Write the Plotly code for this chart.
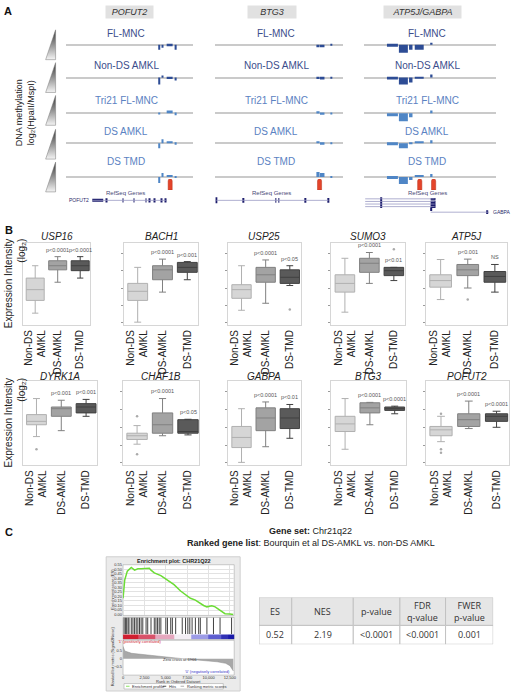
import plotly.graph_objects as go

W, H = 520, 694

# ---------------- Panel A data ----------------
a_columns = ["POFUT2", "BTG3", "ATP5J/GABPA"]
a_samples = ["FL-MNC", "Non-DS AMKL", "Tri21 FL-MNC", "DS AMKL", "DS TMD"]
# probe positions along each locus window (0-100) and probe widths
a_pos = {
    "POFUT2": [73.8, 76.2, 82.0, 86.7],
    "BTG3": [80.2, 83.5, 90.7],
    "ATP5J/GABPA": [21.4, 29.7, 35.3, 41.7, 51.0],
}
a_width = {
    "POFUT2": [1.6, 0.8, 4.7, 1.6],
    "BTG3": [2.5, 3.5, 1.2],
    "ATP5J/GABPA": [8.3, 6.8, 2.6, 6.8, 1.5],
}
# log2(HpaII/MspI) per sample (rows follow a_samples)
a_meth = {
    "POFUT2": [
        [-1.25, -0.75, -0.38, -1.25],
        [-1.75, 0.5, -0.38, -0.75],
        [-0.2, 0.0, 0.75, -0.5],
        [-1.25, 1.0, 0.25, -0.38],
        [-1.5, 1.0, 0.5, -0.25],
    ],
    "BTG3": [
        [-0.62, -0.62, -0.25],
        [-0.38, -0.5, -0.12],
        [0.5, -0.38, -0.12],
        [0.5, -0.38, -0.12],
        [1.25, 1.0, -0.2],
    ],
    "ATP5J/GABPA": [
        [-0.5, -2.0, -1.25, -1.25, 0.25],
        [-0.5, -1.75, -1.25, -0.25, 0.75],
        [-0.75, -2.0, -1.0, 0.0, 0.75],
        [-0.5, -1.25, -0.25, 0.5, 0.75],
        [-0.5, -1.75, -0.75, 0.25, 0.75],
    ],
}
a_dmr = {"POFUT2": [82.4], "BTG3": [81.4], "ATP5J/GABPA": [42.1, 52.6]}

# RefSeq gene models: (start, end, level) lines and (center, width, level, height) exons
gene_lines = {
    "POFUT2": [(21, 79, 0)],
    "BTG3": [(0.8, 88.4, 0)],
    "ATP5J/GABPA": [(0.75, 53.4, 0), (0.75, 53.4, -0.7), (0.75, 53.4, -1.4),
                    (0.75, 53.4, -2.1), (50.4, 94.7, -3.6)],
}
gene_exons = {
    "POFUT2": [(25.4, 8.6, 0, 0.8), (32, 0.6, 0, 1.1), (45.3, 0.6, 0, 1.1), (53.9, 0.6, 0, 1.1),
               (63.3, 0.6, 0, 1.1), (66.4, 0.6, 0, 1.1), (70.3, 0.6, 0, 1.1), (75.8, 0.6, 0, 1.1),
               (78.9, 0.6, 0, 1.1)],
    "BTG3": [(0.8, 1.0, 0, 1.6), (21.7, 0.7, 0, 1.3), (47.3, 0.7, 0, 1.3), (49.6, 0.7, 0, 1.3),
             (70.5, 0.7, 0, 1.3), (88.4, 0.7, 0, 1.3)],
    "ATP5J/GABPA": [(12.8, 1.2, -1.05, 2.9), (52.2, 3.7, 0, 0.5), (52.2, 3.7, -0.7, 0.5),
                    (52.2, 3.7, -1.4, 0.5), (52.2, 3.7, -2.1, 0.5), (50.6, 0.6, -2.8, 0.9),
                    (93.5, 0.7, -3.6, 1.0)],
}
gene_labels = {
    "POFUT2": [("POFUT2", 20, 0, "right")],
    "BTG3": [("BTG3", -1, 0, "right")],
    "ATP5J/GABPA": [("ATP5J", -2, -1.05, "right"), ("GABPA", 96, -3.6, "left")],
}

# ---------------- Panel B data ----------------
b_groups = ["Non-DS<br>AMKL", "DS-AMKL", "DS-TMD"]
b_genes_row1 = ["USP16", "BACH1", "USP25", "SUMO3", "ATP5J"]
b_genes_row2 = ["DYRK1A", "CHAF1B", "GABPA", "BTG3", "POFUT2"]
b_lo = {"USP16": [1.45, 5.2, 5.7], "BACH1": [0.36, 4.0, 5.5], "USP25": [1.8, 2.65, 4.8],
        "SUMO3": [1.57, 5.06, 5.4], "ATP5J": [3.1, 4.5, 4.0], "DYRK1A": [3.4, 4.1, 5.8],
        "CHAF1B": [2.5, 3.5, 3.6], "GABPA": [0.35, 2.2, 3.2], "BTG3": [1.9, 4.8, 6.1],
        "POFUT2": [2.8, 4.35, 4.5]}
b_q1 = {"USP16": [3.0, 6.7, 6.6], "BACH1": [3.0, 5.5, 6.4], "USP25": [3.25, 5.2, 5.06],
        "SUMO3": [4.0, 6.4, 6.0], "ATP5J": [4.6, 6.0, 5.2], "DYRK1A": [4.8, 5.8, 6.2],
        "CHAF1B": [3.06, 3.8, 3.8], "GABPA": [2.1, 4.1, 4.35], "BTG3": [4.0, 6.2, 6.5],
        "POFUT2": [3.5, 4.6, 5.2]}
b_med = {"USP16": [4.3, 7.2, 7.2], "BACH1": [4.1, 6.7, 7.0], "USP25": [4.3, 6.1, 5.8],
         "SUMO3": [5.06, 7.5, 6.6], "ATP5J": [5.4, 6.7, 5.9], "DYRK1A": [5.2, 6.7, 6.9],
         "CHAF1B": [3.5, 4.8, 4.0], "GABPA": [3.3, 5.6, 5.6], "BTG3": [4.9, 6.8, 6.7],
         "POFUT2": [4.2, 5.4, 5.8]}
b_q3 = {"USP16": [5.7, 7.8, 7.8], "BACH1": [5.06, 7.2, 7.6], "USP25": [4.9, 7.0, 6.7],
        "SUMO3": [6.1, 8.1, 7.0], "ATP5J": [6.1, 7.35, 6.5], "DYRK1A": [6.0, 6.9, 7.3],
        "CHAF1B": [3.8, 6.2, 5.4], "GABPA": [4.6, 6.8, 6.7], "BTG3": [5.8, 7.4, 6.9],
        "POFUT2": [4.6, 6.1, 6.1]}
b_hi = {"USP16": [7.2, 8.3, 8.3], "BACH1": [7.0, 8.0, 7.7], "USP25": [7.2, 7.9, 7.2],
        "SUMO3": [8.1, 8.8, 7.0], "ATP5J": [7.95, 8.0, 7.35], "DYRK1A": [7.9, 7.7, 7.8],
        "CHAF1B": [4.7, 7.9, 5.45], "GABPA": [6.7, 7.5, 7.2], "BTG3": [7.9, 7.45, 7.0],
        "POFUT2": [5.8, 7.6, 6.4]}
b_out = {"USP25": [(2, 1.9)], "SUMO3": [(2, 9.2)], "ATP5J": [(1, 3.1)], "DYRK1A": [(0, 1.9)],
         "CHAF1B": [(0, 5.8), (0, 1.3)], "POFUT2": [(0, 1.9), (0, 1.5), (0, 6.1)]}
b_p = {"USP16": ["", "p<0.0001", "p<0.0001"], "BACH1": ["", "p<0.0001", "p<0.001"],
       "USP25": ["", "p<0.0001", "p<0.05"], "SUMO3": ["", "p<0.0001", "p<0.01"],
       "ATP5J": ["", "p<0.001", "NS"], "DYRK1A": ["", "p<0.001", "p<0.001"],
       "CHAF1B": ["", "p<0.0001", "p<0.05"], "GABPA": ["", "p<0.0001", "p<0.01"],
       "BTG3": ["", "p<0.0001", "p<0.0001"], "POFUT2": ["", "p<0.0001", "p<0.0001"]}

# ---------------- Panel C data ----------------
es_rank = [0, 192, 500, 962, 1346, 1731, 2115, 2500, 3077, 3269, 3654, 4423, 5192, 5962, 6731,
           7308, 7885, 8462, 9038, 9423, 9808, 10385, 10769, 11346, 11923, 12500, 12885]
es_val = [0.18, 0.38, 0.48, 0.52, 0.49, 0.505, 0.505, 0.51, 0.51, 0.49, 0.46, 0.43, 0.38, 0.33,
          0.26, 0.215, 0.18, 0.16, 0.12, 0.10, 0.085, 0.097, 0.085, 0.05, 0.01, 0.007, 0.0]
hit_rank = [115, 269, 385, 577, 692, 962, 1154, 1346, 1538, 1731, 1923, 2115, 2308, 2692, 2885,
            3269, 3654, 3846, 4038, 4231, 4423, 5000, 5192, 5577, 5769, 6154, 6923, 7308, 7577,
            7808, 8077, 8462, 8846, 9038, 9808, 10577, 11346, 12692]
metric_rank = [0, 200, 1000, 2500, 5000, 6966, 9000, 11000, 12000, 12500, 12900]
metric_val = [0.8, 0.5, 0.35, 0.25, 0.1, 0.0, -0.1, -0.2, -0.3, -0.45, -0.8]
tbl_head = ["ES", "NES", "p-value", "FDR<br>q-value", "FWER<br>p-value"]
tbl_vals = ["0.52", "2.19", "<0.0001", "<0.0001", "0.001"]
tbl_colw = [33, 62, 47, 46, 48]

# ---------------- helpers ----------------
FONT = "Liberation Sans, Arial, sans-serif"


def px_x(x0, x1):
    return [x0 / W, x1 / W]


def px_y(y0, y1):
    return [1 - y1 / H, 1 - y0 / H]


fig = go.Figure()
layout = {}
ann = []
shapes = []
n_ax = [0]


def add_axes(xd, yd, xkw=None, ykw=None):
    n_ax[0] += 1
    k = n_ax[0]
    s = "" if k == 1 else str(k)
    base = dict(showgrid=False, zeroline=False, showticklabels=False, ticks="",
                showline=False, fixedrange=True)
    xa = dict(base)
    xa.update(domain=px_x(*xd), anchor="y" + s)
    xa.update(xkw or {})
    ya = dict(base)
    ya.update(domain=px_y(*yd), anchor="x" + s)
    ya.update(ykw or {})
    layout["xaxis" + s] = xa
    layout["yaxis" + s] = ya
    return "x" + s, "y" + s


def text(x, y, t, size=10, color="#222", **kw):
    d = dict(x=x / W, y=1 - y / H, xref="paper", yref="paper", text=t, showarrow=False,
             font=dict(size=size, color=color, family=FONT), xanchor="center", yanchor="middle")
    d.update(kw)
    ann.append(d)


# ---------------- Panel A ----------------
cxa, cya = add_axes((0, 520), (0, 694), dict(range=[0, 520], visible=False),
                    dict(range=[694, 0], visible=False))
wedges = [(27, 57), (60, 90), (93, 123), (127, 157), (160, 190)]
for (t, b) in wedges:
    fig.add_trace(go.Scatter(x=[55, 55, 45, 55], y=[t, b, b, t], mode="lines", fill="toself",
                             fillgradient=dict(type="vertical",
                                               colorscale=[[0, "#f4f4f4"], [1, "#333333"]]),
                             line=dict(color="#777", width=0.5), xaxis=cxa, yaxis=cya,
                             hoverinfo="skip", showlegend=False))

text(7, 8, "<b>A</b>", 11, "#111")
text(25, 110, "DNA methylation<br>log₂(HpaII/MspI)", 9, "#222", textangle=-90)

col_x = [(65, 193), (216, 345), (366, 499)]
col_head_x = [129.5, 273, 424.5]
col_head_w = [45, 46, 75]
baselines = [42, 75, 111, 141, 175]
title_y = [31, 63, 98, 129, 159]
bar_cols = ["#2d4c95", "#2d4c95", "#4f86c6", "#4f86c6", "#4f86c6"]
title_cols = ["#3c4d8c", "#3c4d8c", "#5b82c2", "#5b82c2", "#5b82c2"]
refseq_x = [125, 273, 430]

for ci, gname in enumerate(a_columns):
    x0, x1 = col_x[ci]
    text(col_head_x[ci], 9, "<i>%s</i>" % gname, 9, "#333", bgcolor="#e1e1e1",
         width=col_head_w[ci], height=10)
    for ri, sname in enumerate(a_samples):
        b = baselines[ri]
        xa, ya = add_axes((x0, x1), (b - 10, b + 10), dict(range=[0, 100]),
                          dict(range=[-2.5, 2.5], zeroline=True, zerolinecolor="#cacaca",
                               zerolinewidth=1.5))
        fig.add_trace(go.Bar(x=a_pos[gname], y=a_meth[gname][ri], width=a_width[gname],
                             marker=dict(color=bar_cols[ri], line=dict(width=0)),
                             xaxis=xa, yaxis=ya, hoverinfo="skip", showlegend=False))
        text((x0 + x1) / 2 - 3, title_y[ri], sname, 10, title_cols[ri])
    # DS-specific DMRs
    xa, ya = add_axes((x0, x1), (177, 188), dict(range=[0, 100]), dict(range=[0, 1]))
    fig.add_trace(go.Bar(x=a_dmr[gname], y=[1] * len(a_dmr[gname]), width=3.2,
                         marker=dict(color="#e4442a", line=dict(width=0.5, color="#b8321c"),
                                     cornerradius=2),
                         xaxis=xa, yaxis=ya, hoverinfo="skip", showlegend=False))
    # RefSeq genes
    text(refseq_x[ci], 191, "RefSeq Genes", 6, "#4a4a78")
    if ci < 2:
        xa, ya = add_axes((x0, x1), (194, 203), dict(range=[0, 100]), dict(range=[-1.2, 1.2]))
    else:
        xa, ya = add_axes((x0, x1), (194, 213), dict(range=[0, 100]), dict(range=[-4.3, 0.8]))
    for (s, e, lv) in gene_lines[gname]:
        fig.add_trace(go.Scatter(x=[s, e], y=[lv, lv], mode="lines",
                                 line=dict(color="#9a9ac4", width=0.8), xaxis=xa, yaxis=ya,
                                 hoverinfo="skip", showlegend=False))
    ex = gene_exons[gname]
    fig.add_trace(go.Bar(x=[e[0] for e in ex], y=[e[3] for e in ex],
                         base=[e[2] - e[3] / 2 for e in ex], width=[e[1] for e in ex],
                         marker=dict(color="#1c1c6c", line=dict(width=0)),
                         xaxis=xa, yaxis=ya, hoverinfo="skip", showlegend=False))
    for (lab, lx, ly, side) in gene_labels[gname]:
        ann.append(dict(x=lx, y=ly, xref=xa, yref=ya, text=lab, showarrow=False,
                        xanchor=side, yanchor="middle",
                        font=dict(size=5, color="#2a2a6a", family=FONT)))

# ---------------- Panel B ----------------
text(8, 228, "<b>B</b>", 11, "#111")
rows = [
    (b_genes_row1, [(22, 90), (124, 199), (229, 302), (333, 407), (428, 510)], (241, 324), 235, 282),
    (b_genes_row2, [(22, 97), (123, 200), (229, 302), (333, 408), (428, 512)], (380, 465), 376, 422),
]
box_fill = ["#d6d6d6", "#a3a3a3", "#5a5a5a"]
box_line = ["#b0b0b0", "#808080", "#404040"]
for genes, frames, (fy0, fy1), ty, ylab_y in rows:
    text(14, ylab_y, "Expression Intensity<br>(log₂)", 10, "#222", textangle=-90,
         align="right")
    for gi, g in enumerate(genes):
        fx0, fx1 = frames[gi]
        noticks = g in ("USP16", "DYRK1A")
        xa, ya = add_axes(
            (fx0, fx1), (fy0, fy1),
            dict(range=[-0.55, 2.45], tickvals=[0, 1, 2], ticktext=b_groups, tickangle=-90,
                 showticklabels=True, tickfont=dict(size=10, color="#222", family=FONT),
                 showline=True, mirror=True, linecolor="#d6d6d6", linewidth=1),
            dict(range=[0, 10], showline=True, mirror=True, linecolor="#d6d6d6", linewidth=1,
                 ticks="" if noticks else "outside", ticklen=2, tickcolor="#9a9a9a",
                 tick0=0.3, dtick=2.1))
        text((fx0 + fx1) / 2, ty, "<i>%s</i>" % g, 10, "#222")
        for k in range(3):
            fig.add_trace(go.Box(x=[k], q1=[b_q1[g][k]], median=[b_med[g][k]], q3=[b_q3[g][k]],
                                 lowerfence=[b_lo[g][k]], upperfence=[b_hi[g][k]],
                                 fillcolor=box_fill[k], line=dict(color=box_line[k], width=1),
                                 width=0.8, whiskerwidth=0.35, boxpoints=False,
                                 xaxis=xa, yaxis=ya, hoverinfo="skip", showlegend=False))
            if b_p[g][k]:
                ann.append(dict(x=k, y=b_hi[g][k] + 0.25, xref=xa, yref=ya, text=b_p[g][k],
                                showarrow=False, yanchor="bottom",
                                font=dict(size=5.5, color="#555", family=FONT)))
        if g in b_out:
            fig.add_trace(go.Scatter(x=[o[0] for o in b_out[g]], y=[o[1] for o in b_out[g]],
                                     mode="markers", marker=dict(size=2.5, color="#aaaaaa"),
                                     xaxis=xa, yaxis=ya, hoverinfo="skip", showlegend=False))

# ---------------- Panel C ----------------
text(8, 532, "<b>C</b>", 11, "#111")
text(312, 531, "<b>Gene set:</b> Chr21q22", 9, "#222")
text(312, 543, "<b>Ranked gene list</b>: Bourquin et al DS-AMKL vs. non-DS AMKL", 9, "#222")

shapes.append(dict(type="rect", xref="paper", yref="paper", x0=106 / W, x1=241 / W,
                   y0=1 - 692 / H, y1=1 - 557 / H, fillcolor="#ebebeb",
                   line=dict(color="#cfcfcf", width=1), layer="below"))
for (yy0, yy1) in [(565, 616), (618, 640), (641, 676)]:
    shapes.append(dict(type="rect", xref="paper", yref="paper", x0=123 / W, x1=235 / W,
                       y0=1 - yy1 / H, y1=1 - yy0 / H, fillcolor="white",
                       line=dict(color="#9a9a9a", width=0.5), layer="below"))
text(174, 561, "<b>Enrichment plot: CHR21Q22</b>", 5.5, "#222")

gx = dict(range=[0, 13000])
xa, ya = add_axes((123, 235), (565, 616),
                  dict(range=[0, 13000], showgrid=True, gridcolor="#e2e2e2", gridwidth=0.5,
                       dtick=2500),
                  dict(range=[-0.01, 0.55], showgrid=True, gridcolor="#e2e2e2", gridwidth=0.5,
                       dtick=0.05, showticklabels=True, tickformat=".2f",
                       tickfont=dict(size=4, color="#333", family=FONT)))
fig.add_trace(go.Scatter(x=es_rank, y=es_val, mode="lines", line=dict(color="#6bdc34", width=1.5),
                         xaxis=xa, yaxis=ya, hoverinfo="skip", showlegend=False))
text(112, 590, "Enrichment score (ES)", 4, "#333", textangle=-90)

xa, ya = add_axes((123, 235), (618, 635), dict(gx), dict(range=[0, 1]))
hx, hy = [], []
for h in hit_rank:
    hx += [h, h, None]
    hy += [0, 1, None]
fig.add_trace(go.Scatter(x=hx, y=hy, mode="lines", line=dict(color="#111", width=0.8),
                         xaxis=xa, yaxis=ya, hoverinfo="skip", showlegend=False))

xa, ya = add_axes((123, 235), (635, 640), dict(gx), dict(range=[0, 1]))
fig.add_trace(go.Heatmap(x=metric_rank, y=[0.5], z=[metric_val], zmin=-0.35, zmax=0.35,
                         colorscale=[[0, "#1a1aa8"], [0.3, "#7a7ae0"], [0.5, "#f2eef4"],
                                     [0.7, "#e08aa8"], [1, "#d01e30"]],
                         showscale=False, xaxis=xa, yaxis=ya, hoverinfo="skip"))
text(140, 642.5, "'1' (positively correlated)", 4, "#d01e30")

xa, ya = add_axes((123, 235), (644, 675),
                  dict(range=[0, 13000], tickvals=[0, 2500, 5000, 7500, 10000, 12500],
                       ticktext=["0", "2,500", "5,000", "7,500", "10,000", "12,500"],
                       showticklabels=True, tickfont=dict(size=4, color="#333", family=FONT)),
                  dict(range=[-1, 1], showticklabels=True, tickvals=[-0.5, 0, 0.5],
                       tickfont=dict(size=4, color="#333", family=FONT)))
fig.add_trace(go.Scatter(x=metric_rank, y=metric_val, mode="lines", fill="tozeroy",
                         fillcolor="#a8a8a8", line=dict(color="#8c8c8c", width=0.5),
                         xaxis=xa, yaxis=ya, hoverinfo="skip", showlegend=False))
text(180, 660, "Zero cross at 6966", 4, "#333")
text(208, 672, "'0' (negatively correlated)", 4, "#3434c8")
text(179, 682.5, "Rank in Ordered Dataset", 4, "#333")
text(112, 657, "Ranked list metric (Signal2Noise)", 4, "#333", textangle=-90)
# legend box
shapes.append(dict(type="rect", xref="paper", yref="paper", x0=124 / W, x1=224 / W,
                   y0=1 - 690 / H, y1=1 - 684.5 / H, fillcolor="white",
                   line=dict(color="#999", width=0.5)))
for (lx0, lcol) in [(126, "#6bdc34"), (163, "#222"), (181, "#999")]:
    shapes.append(dict(type="line", xref="paper", yref="paper", x0=lx0 / W, x1=(lx0 + 3.5) / W,
                       y0=1 - 687.2 / H, y1=1 - 687.2 / H, line=dict(color=lcol, width=0.8)))
text(130.5, 687.2, "Enrichment profile", 4, "#333", xanchor="left")
text(167.5, 687.2, "Hits", 4, "#333", xanchor="left")
text(185.5, 687.2, "Ranking metric scores", 4, "#333", xanchor="left")

# ---------------- Panel C table ----------------
edges = [0]
for w_ in tbl_colw:
    edges.append(edges[-1] + w_)
txa, tya = add_axes((260, 496), (598, 645), dict(range=[0, edges[-1]]), dict(range=[47, 0]))
for i in range(len(tbl_head)):
    shapes.append(dict(type="rect", xref=txa, yref=tya, x0=edges[i], x1=edges[i + 1], y0=0,
                       y1=28, fillcolor="#e6e6e6", line=dict(color="#c2c2c2", width=1),
                       layer="below"))
    shapes.append(dict(type="rect", xref=txa, yref=tya, x0=edges[i], x1=edges[i + 1], y0=28,
                       y1=47, fillcolor="white", line=dict(color="#c2c2c2", width=1),
                       layer="below"))
    mid = (edges[i] + edges[i + 1]) / 2
    ann.append(dict(x=mid, y=14, xref=txa, yref=tya, text=tbl_head[i], showarrow=False,
                    font=dict(size=9, color="#333", family="Open Sans")))
    ann.append(dict(x=mid, y=37.5, xref=txa, yref=tya, text=tbl_vals[i], showarrow=False,
                    font=dict(size=9, color="#333", family="Open Sans")))

fig.update_layout(
    width=W, height=H, margin=dict(l=0, r=0, t=0, b=0),
    paper_bgcolor="white", plot_bgcolor="rgba(0,0,0,0)",
    showlegend=False, hovermode=False, boxmode="overlay", barmode="overlay",
    annotations=ann, shapes=shapes, font=dict(family=FONT),
    **layout,
)
fig.write_html("out.html", config={"displayModeBar": False},
               post_script="document.body.style.margin='0';"
                           "document.body.style.overflow='hidden';")
